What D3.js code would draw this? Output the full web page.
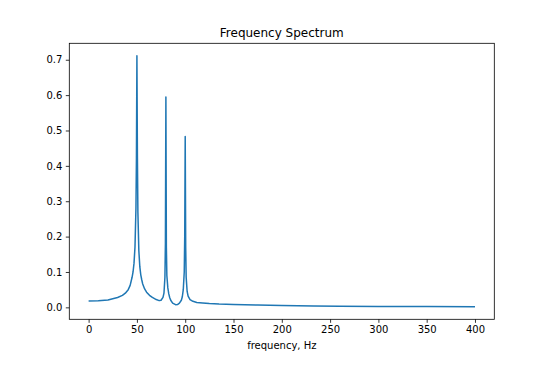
<!DOCTYPE html>
<html>
<head>
<meta charset="utf-8">
<script src="https://cdn.jsdelivr.net/npm/d3@7"></script>
<style>
  body { margin: 0; background: #fff; }
  text { font-family: "DejaVu Sans", sans-serif; fill: #000; }
</style>
</head>
<body>
<script>
const width = 548;
const height = 365;
const margin = {top: 43.3, right: 53.7, bottom: 45.7, left: 69.3};

// frequency (Hz) and magnitude
const freq = [0, 10, 20, 30, 35, 38, 41, 43, 45, 46, 47, 48, 49, 49.5, 50, 50.5, 51, 52, 53, 54, 55, 56, 58, 60, 63, 66, 70, 73, 75, 77, 78, 79, 79.5, 80, 80.5, 81, 82, 83, 84, 85, 87, 90, 92, 94, 96, 97, 98, 99, 99.5, 100, 100.5, 101, 102, 103, 105, 108, 112, 118, 125, 135, 150, 175, 200, 233, 260, 300, 350, 400];
const amp = [0.018, 0.019, 0.021, 0.028, 0.034, 0.040, 0.050, 0.062, 0.085, 0.100, 0.125, 0.170, 0.280, 0.420, 0.711, 0.430, 0.270, 0.160, 0.115, 0.092, 0.078, 0.066, 0.052, 0.043, 0.034, 0.028, 0.022, 0.019, 0.020, 0.028, 0.040, 0.085, 0.180, 0.595, 0.170, 0.090, 0.055, 0.038, 0.027, 0.020, 0.012, 0.0075, 0.008, 0.012, 0.020, 0.030, 0.050, 0.100, 0.200, 0.483, 0.170, 0.085, 0.045, 0.032, 0.022, 0.017, 0.014, 0.0125, 0.011, 0.0095, 0.0082, 0.0065, 0.0052, 0.0040, 0.0033, 0.0026, 0.0021, 0.0017];

const xTicks = [0, 50, 100, 150, 200, 250, 300, 350, 400];
const yTicks = [0.0, 0.1, 0.2, 0.3, 0.4, 0.5, 0.6, 0.7];

const data = freq.map((f, i) => ({f: f, a: amp[i]}));

let svg = d3.select("body")
    .append("svg")
    .attr("width", width)
    .attr("height", height);

// matplotlib style 5% padding around the data range
let xExt = d3.extent(freq);
let yExt = d3.extent(amp);
let xPad = (xExt[1] - xExt[0]) * 0.05;
let yPad = (yExt[1] - yExt[0]) * 0.05;

let x = d3.scaleLinear()
    .domain([xExt[0] - xPad, xExt[1] + xPad])
    .range([margin.left, width - margin.right]);

let y = d3.scaleLinear()
    .domain([yExt[0] - yPad, yExt[1] + yPad])
    .range([height - margin.bottom, margin.top]);

let line = d3.line()
    .x((d) => x(d.f))
    .y((d) => y(d.a));

svg.append("path")
    .datum(data)
    .attr("d", line)
    .attr("fill", "none")
    .attr("stroke", "#1f77b4")
    .attr("stroke-width", 1.5)
    .attr("stroke-linejoin", "round");

let xAxis = svg.append("g")
    .attr("transform", "translate(0," + (height - margin.bottom) + ")")
    .call(d3.axisBottom(x).tickValues(xTicks).tickSize(3.5).tickPadding(3.5).tickFormat(d3.format("d")));

let yAxis = svg.append("g")
    .attr("transform", "translate(" + margin.left + ",0)")
    .call(d3.axisLeft(y).tickValues(yTicks).tickSize(3.5).tickPadding(3.5).tickFormat(d3.format(".1f")));

[xAxis, yAxis].forEach((g) => {
    g.select(".domain").remove();
    g.selectAll(".tick line").attr("stroke", "#000").attr("stroke-width", 0.8);
    g.selectAll(".tick text").attr("font-size", 10).attr("font-family", "DejaVu Sans").attr("fill", "#000");
});

// frame
svg.append("rect")
    .attr("x", margin.left)
    .attr("y", margin.top)
    .attr("width", width - margin.left - margin.right)
    .attr("height", height - margin.top - margin.bottom)
    .attr("fill", "none")
    .attr("stroke", "#000")
    .attr("stroke-width", 0.8);

svg.append("text")
    .attr("x", (margin.left + width - margin.right) / 2)
    .attr("y", margin.top - 6)
    .attr("text-anchor", "middle")
    .attr("font-size", 12)
    .text("Frequency Spectrum");

svg.append("text")
    .attr("x", (margin.left + width - margin.right) / 2)
    .attr("y", 349)
    .attr("text-anchor", "middle")
    .attr("font-size", 10)
    .text("frequency, Hz");
</script>
</body>
</html>
